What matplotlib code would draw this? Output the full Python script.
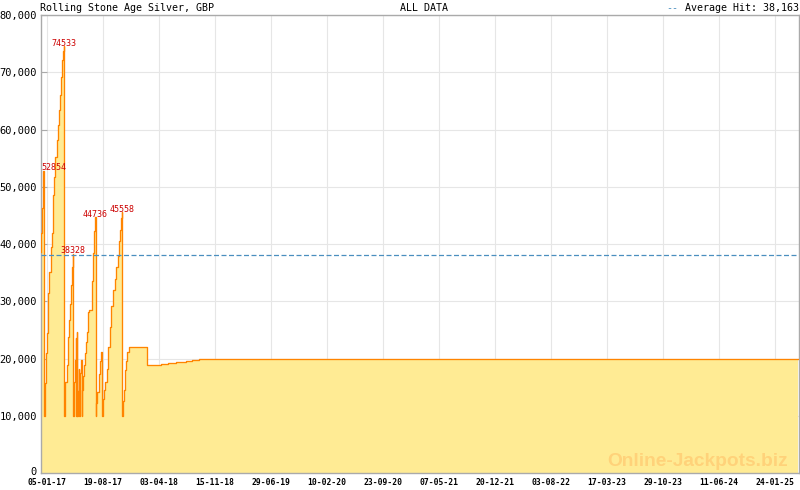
import numpy as np
import pandas as pd
import matplotlib
matplotlib.use('Agg')
import matplotlib.pyplot as plt
import matplotlib.dates as mdates
import matplotlib.transforms as mtransforms
from matplotlib.ticker import FuncFormatter, FixedLocator

# jackpot history: days after 05-01-17 and jackpot value (GBP)
start = pd.Timestamp('2017-01-05')
day_offsets = [-24, -22, -19, -16, -13, -10, -8, -6, -2, 1, 4, 7, 10, 16, 21, 24, 27, 31, 35,
               40, 44, 48, 53, 58, 62, 66, 68, 70, 72, 75, 81, 85, 90, 94, 98, 102, 105,
               107, 109, 112, 115, 118, 120, 122, 124, 126, 129, 132, 133, 136, 139, 141,
               144, 148, 152, 156, 160, 163, 166, 168, 171, 183, 184, 187, 190, 194,
               198, 200, 204, 211, 217, 221, 225, 227, 231, 237, 242, 248, 255, 261, 268,
               275, 281, 288, 294, 297, 300, 303, 305, 308, 312, 316, 322, 326, 334,
               404, 427, 462, 491, 524, 563, 587, 616, 3035]
jackpot = [38700, 42000, 46300, 50300, 52854, 10000, 12200, 15700, 21000, 24500, 28200, 31500,
           35200, 39500, 42000, 45500, 48500, 51800, 55200, 58200, 60800, 63400, 66000, 69200,
           72100, 73800, 74533, 10000, 13300, 16000, 18900, 23800, 26700, 29600, 32800, 36000,
           38328, 10000, 13500, 16000, 19800, 23600, 10000, 24700, 10000, 14300, 18300, 10000,
           14000, 17500, 19800, 10000, 14500, 17000, 18900, 20950, 23000, 24700, 26800, 28200,
           28500, 28700, 33500, 38500, 42300, 44736, 10000, 12200, 14200, 17400, 19700, 21200,
           10000, 13000, 14500, 16000, 18300, 22000, 25500, 29300, 32000, 34000, 36000, 38000,
           40500, 42400, 44500, 45558, 10000, 12700, 14500, 18000, 19700, 21200, 22000,
           18850, 19000, 19150, 19350, 19500, 19700, 19850, 20050, 20050]
peaks = [52854, 74533, 38328, 44736, 45558]
average_hit = 38163

tick_labels = ['05-01-17', '19-08-17', '03-04-18', '15-11-18', '29-06-19', '10-02-20', '23-09-20',
               '07-05-21', '20-12-21', '03-08-22', '17-03-23', '29-10-23', '11-06-24', '24-01-25']

dates = start + pd.to_timedelta(day_offsets, unit='D')
mono = 'DejaVu Sans Mono'

fig = plt.figure(figsize=(8, 4.9), dpi=100)
ax = fig.add_axes([40.5 / 800, (490 - 473.4) / 490, 758 / 800, (473.4 - 15) / 490])

ax.fill_between(dates, jackpot, 0, step='post', color='#FFEB94', lw=0, zorder=2)
ax.plot(dates, jackpot, drawstyle='steps-post', color='#FF8400', lw=0.95, zorder=3)
ax.axhline(average_hit, color='#4A8FBF', lw=0.9, ls=(0, (4, 2)), zorder=4)

xmin = mdates.date2num(start - pd.Timedelta(days=25))
xmax = mdates.date2num(start + pd.Timedelta(days=3037))
ax.set_xlim(xmin, xmax)
ax.set_ylim(0, 80000)

# peak labels
for p in peaks:
    d = dates[jackpot.index(p)]
    if mdates.date2num(d) - xmin < 50:
        ax.annotate(str(p), xy=(xmin, p), xytext=(0.3, 2.2), textcoords='offset points',
                    ha='left', va='center', color='#CC0000', fontsize=6, family=mono, zorder=5)
    else:
        ax.annotate(str(p), xy=(d, p), xytext=(0, 2.2), textcoords='offset points',
                    ha='center', va='center', color='#CC0000', fontsize=6, family=mono, zorder=5)

# ticks
major = mdates.date2num(pd.to_datetime(tick_labels, format='%d-%m-%y'))
step = (major[-1] - major[0]) / (len(major) - 1) / 7
minor = np.arange(major[0], xmax, step)
ax.xaxis.set_major_locator(FixedLocator(major))
ax.xaxis.set_minor_locator(FixedLocator(minor))
ax.set_xticklabels(tick_labels, fontsize=5.8, family=mono, fontweight='bold')
ax.set_yticks(np.arange(0, 80001, 10000))
ax.yaxis.set_major_formatter(FuncFormatter(lambda v, _: f'{int(v):,}'))
for lab in ax.get_yticklabels():
    lab.set_fontsize(7.5)
    lab.set_family(mono)

ax.tick_params(axis='x', which='major', direction='in', length=4.5, color='#AAAAAA', pad=3.3)
ax.tick_params(axis='x', which='minor', direction='in', length=2.5, color='#AAAAAA')
ax.tick_params(axis='y', direction='in', length=4.5, color='#AAAAAA', pad=2.5)

# lift the "0" label a little so it clears the first date label
zero_lab = ax.yaxis.get_major_ticks()[0].label1
zero_lab.set_transform(zero_lab.get_transform() +
                       mtransforms.ScaledTranslation(0, 1.8 / 72, fig.dpi_scale_trans))

ax.grid(True, which='major', color='#E6E6E6', lw=0.8, zorder=0)
ax.set_axisbelow(True)
for s in ax.spines.values():
    s.set_color('#AAAAAA')
    s.set_linewidth(1)

# header texts
fig.text(40.5 / 800, 1 - 8 / 490, 'Rolling Stone Age Silver, GBP', fontsize=7.2, family=mono,
         ha='left', va='center')
fig.text(424 / 800, 1 - 8 / 490, 'ALL DATA', fontsize=7.2, family=mono, ha='center', va='center')
fig.text(799 / 800, 1 - 8 / 490, 'Average Hit: 38,163', fontsize=7.2, family=mono,
         ha='right', va='center')
fig.text(666 / 800, 1 - 8 / 490, '--', fontsize=7.2, family=mono, color='#4A8FBF',
         ha='left', va='center')

# watermark
fig.text(698 / 800, (490 - 466) / 490, 'Online-Jackpots.biz', fontsize=13.8,
         family='Liberation Sans', fontweight='bold', color='#FFD27A', ha='center',
         va='baseline', zorder=10)

fig.savefig('out.png', dpi=100)
